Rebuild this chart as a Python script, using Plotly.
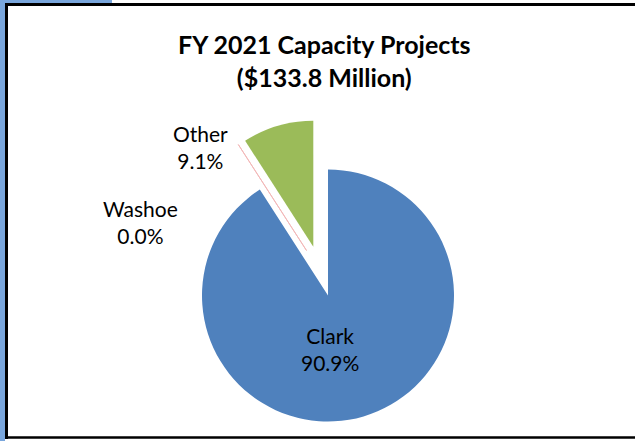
import plotly.graph_objects as go

# ---- data ----
labels = ["Clark", "Washoe", "Other"]
values = [90.9, 0.0, 9.1]
colors = ["#4F81BD", "#C0504D", "#9BBB59"]
title_lines = ["FY 2021 Capacity Projects", "($133.8 Million)"]

W, H = 635, 441
FONT = "Lato, 'Open Sans', sans-serif"

def px_dom(cx, cy, r):
    return dict(x=[(cx - r) / W, (cx + r) / W], y=[1 - (cy + r) / H, 1 - (cy - r) / H])

R = 126
fig = go.Figure()

def slice_trace(show_idx, cx, cy, line_color=None):
    fills = [c if i == show_idx else "rgba(0,0,0,0)" for i, c in enumerate(colors)]
    lcols = ["rgba(0,0,0,0)"] * len(labels)
    lw = 0
    if line_color:
        lcols = [line_color if i == show_idx else "rgba(0,0,0,0)" for i in range(len(labels))]
        lw = 1
        fills = ["rgba(0,0,0,0)"] * len(labels)
    return go.Pie(
        labels=labels, values=values, sort=False, direction="clockwise", rotation=0,
        marker=dict(colors=fills, line=dict(color=lcols, width=lw)),
        textinfo="none", hoverinfo="skip", showlegend=False,
        domain=px_dom(cx, cy, R),
    )

# Clark (not exploded)
fig.add_trace(slice_trace(0, 328, 295.5))
# Washoe (zero slice, exploded outline)
fig.add_trace(slice_trace(1, 306.5, 250.5, line_color="#F2B8B8"))
# Other (exploded)
fig.add_trace(slice_trace(2, 313.3, 246.7))

total = sum(values)
pct = [v / total * 100 for v in values]
label_pos = {"Clark": (330, 349), "Washoe": (140, 222), "Other": (200, 147)}

annotations = []
for lab, p in zip(labels, pct):
    x, y = label_pos[lab]
    annotations.append(dict(
        x=x / W, y=1 - y / H, xref="paper", yref="paper", showarrow=False,
        text=f"{lab}<br>{p:.1f}%", align="center",
        font=dict(family=FONT, size=21, color="#000000"),
        xanchor="center", yanchor="middle",
    ))
annotations.append(dict(
    x=324 / W, y=1 - 61 / H, xref="paper", yref="paper", showarrow=False,
    text="<b>" + "<br>".join(title_lines) + "</b>", align="center",
    font=dict(family=FONT, size=25, color="#000000"),
    xanchor="center", yanchor="middle",
))

def px_line(x0, y0, x1, y1, color, width):
    return dict(type="line", xref="paper", yref="paper",
                x0=x0 / W, x1=x1 / W, y0=1 - y0 / H, y1=1 - y1 / H,
                line=dict(color=color, width=width))

shapes = [
    dict(type="rect", xref="paper", yref="paper", x0=0, x1=5 / W, y0=0, y1=1,
         fillcolor="#79A6DC", line=dict(width=0)),
    dict(type="rect", xref="paper", yref="paper", x0=0, x1=112 / W, y0=1 - 3 / H, y1=1,
         fillcolor="#79A6DC", line=dict(width=0)),
    px_line(6.5, 3, 6.5, 439, "#000000", 3),
    px_line(5, 4.5, 635, 4.5, "#000000", 3),
    px_line(5, 437.5, 635, 437.5, "#000000", 2.5),
]

fig.update_layout(
    width=W, height=H, margin=dict(l=0, r=0, t=0, b=0),
    paper_bgcolor="#FFFFFF", plot_bgcolor="#FFFFFF",
    annotations=annotations, shapes=shapes,
)
fig.write_html(
    "out.html",
    config={"displayModeBar": False},
    post_script="document.body.style.margin='0';document.body.style.padding='0';"
                "document.body.style.overflow='hidden';",
)
